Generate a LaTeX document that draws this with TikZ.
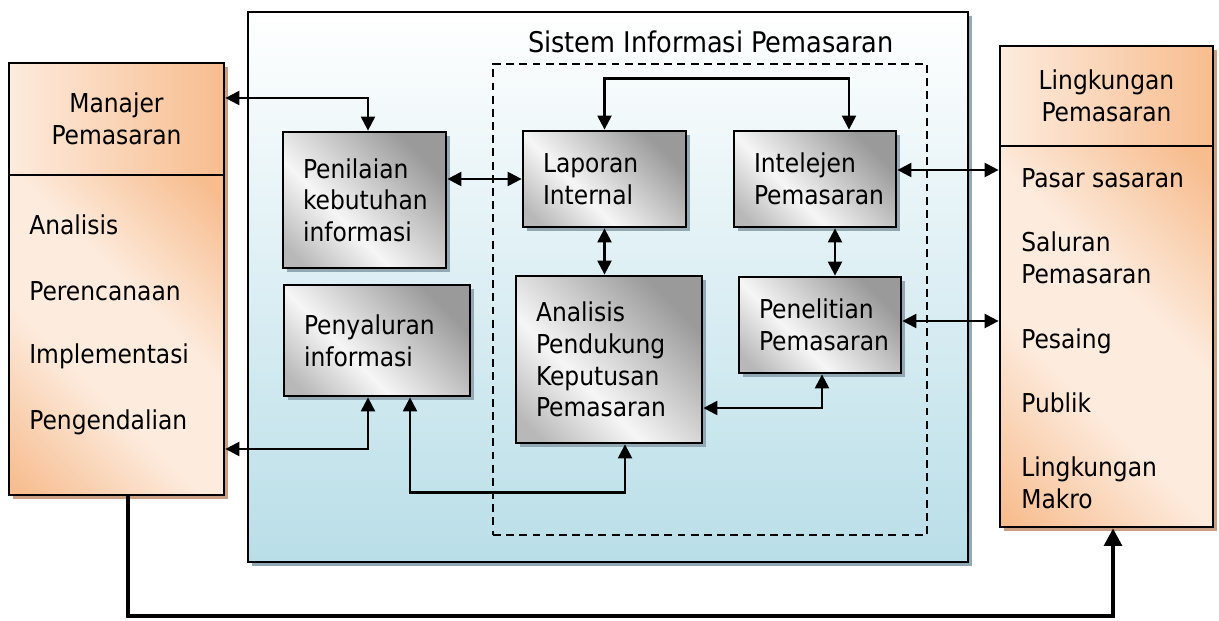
\documentclass[tikz,border=0pt]{standalone}
\usepackage{fontspec}
\setmainfont{DejaVu Sans Condensed}
\usepackage{tikz}
\usetikzlibrary{arrows.meta,calc,positioning,shadows}
\definecolor{peach}{HTML}{FDEBDD}
\definecolor{apricot}{HTML}{F7BD8F}
\definecolor{tanshade}{HTML}{C9A083}
\definecolor{steel}{HTML}{9A9A9A}
\definecolor{silver}{HTML}{B8B8B8}
\definecolor{frost}{HTML}{F6F6F6}
\definecolor{skyfade}{HTML}{B9DEE8}
\definecolor{slate}{HTML}{92A9B3}
\pgfdeclarehorizontalshading{metal}{100bp}{color(0bp)=(steel); color(26bp)=(steel); color(60bp)=(frost); color(80bp)=(silver); color(100bp)=(silver)}
\pgfdeclarehorizontalshading{sunband}{100bp}{color(0bp)=(apricot); color(18bp)=(apricot); color(42bp)=(peach); color(60bp)=(peach); color(84bp)=(apricot); color(100bp)=(apricot)}

\begin{document}
\begin{tikzpicture}[x=0.02cm,y=-0.02cm,every node/.style={font=\fontsize{14.8}{18}\selectfont},
  card/.style={draw,line width=1.6pt,shading=metal,shading angle=225,align=left,inner xsep=0.4cm,
    drop shadow={shadow xshift=0.08cm,shadow yshift=-0.08cm,fill=slate,opacity=1}},
  pane/.style={draw,line width=1.6pt,minimum width=4.3cm,align=center,
    drop shadow={shadow xshift=0.08cm,shadow yshift=-0.08cm,fill=tanshade,opacity=1}},
  item/.style={anchor=base west,align=left,inner sep=0pt},
  arr/.style={{Triangle[length=8pt,width=8pt]}-{Triangle[length=8pt,width=8pt]},line width=1.3pt},
  loop/.style={-{Triangle[length=10pt,width=10pt]},line width=2.3pt}]
  \useasboundingbox (0,0) rectangle (1219,621);
  % sistem informasi
  \node[draw,line width=1.4pt,top color=white,bottom color=skyfade,minimum width=14.4cm,minimum height=11cm,
    drop shadow={shadow xshift=0.08cm,shadow yshift=-0.08cm,fill=slate,opacity=1}] (sis) at (608,287) {};
  \node[font=\fontsize{16.2}{19}\selectfont] (ttl) at (711,42) {Sistem Informasi Pemasaran};
  \node[draw,line width=1.3pt,dash pattern=on 4.5pt off 3pt,minimum width=8.68cm,minimum height=9.42cm] (sim) at (710,299.5) {};
  % manajer
  \node[pane,left color=peach,right color=apricot,minimum height=2.24cm] (mgr) at (116.5,119) {Manajer\\Pemasaran};
  \node[pane,shading=sunband,shading angle=225,minimum height=6.4cm] (mgrlist) at (116.5,335) {};
  \node[item] (m1) at (29,235) {Analisis};
  \node[item] (m2) at (29,300) {Perencanaan};
  \node[item] (m3) at (29,363) {Implementasi};
  \node[item] (m4) at (29,429) {Pengendalian};
  % lingkungan
  \node[pane,left color=peach,right color=apricot,minimum width=4.26cm,minimum height=2cm] (ling) at (1106.5,96) {Lingkungan\\Pemasaran};
  \node[pane,shading=sunband,shading angle=225,minimum width=4.26cm,minimum height=7.62cm] (linglist) at (1106.5,336.5) {};
  \node[item] (l1) at (1021,188) {Pasar sasaran};
  \node[item] (l2) at (1021,283) {Saluran\\Pemasaran};
  \node[item] (l3) at (1021,348) {Pesaing};
  \node[item] (l4) at (1021,412) {Publik};
  \node[item] (l5) at (1021,508) {Lingkungan\\Makro};
  % kotak proses
  \node[card,minimum width=3.26cm,text width=2.46cm,minimum height=2.72cm] (nilai) at (364.5,200) {Penilaian\\kebutuhan\\informasi};
  \node[card,minimum width=3.72cm,text width=2.92cm,minimum height=2.22cm] (salur) at (377,340.5) {Penyaluran\\informasi};
  \node[card,minimum width=3.26cm,text width=2.46cm,minimum height=1.92cm] (lapor) at (604.5,179) {Laporan\\Internal};
  \node[card,minimum width=3.24cm,text width=2.44cm,minimum height=1.92cm] (intel) at (815,179) {Intelejen\\Pemasaran};
  \node[card,minimum width=3.72cm,text width=2.92cm,minimum height=3.34cm] (adss) at (609,359.5) {Analisis\\Pendukung\\Keputusan\\Pemasaran};
  \node[card,minimum width=3.24cm,text width=2.44cm,minimum height=1.92cm] (teliti) at (820,325) {Penelitian\\Pemasaran};
  % panah
  \draw[arr] ([yshift=0.42cm]mgr.east) -| ([xshift=0.07cm]nilai.north);
  \draw[arr] (nilai.east |- lapor.west) -- (lapor.west);
  \draw[arr] (lapor.north) -- ++(0,-51) -| ([xshift=0.68cm]intel.north);
  \draw[arr] ([yshift=0.18cm]intel.east) -- ([yshift=0.18cm]intel.east -| linglist.west);
  \draw[arr] (lapor.south) -- (lapor.south |- adss.north);
  \draw[arr] ([xshift=0.4cm]intel.south) -- ([xshift=0.4cm]intel.south |- teliti.north);
  \draw[arr] ([yshift=0.08cm]teliti.east) -- ([yshift=0.08cm]teliti.east -| linglist.west);
  \draw[arr] ([yshift=-0.97cm]adss.east) -| ([xshift=0.04cm]teliti.south);
  \draw[arr] ([xshift=0.66cm]salur.south) -- ++(0,95) -| ([xshift=0.32cm]adss.south);
  \draw[arr] ([xshift=-0.18cm]salur.south) |- ([yshift=-2.28cm]mgrlist.east);
  \draw[loop] ([xshift=0.23cm]mgrlist.south) -- ++(0,120) -| ([xshift=0.13cm]linglist.south);
\end{tikzpicture}
\end{document}
